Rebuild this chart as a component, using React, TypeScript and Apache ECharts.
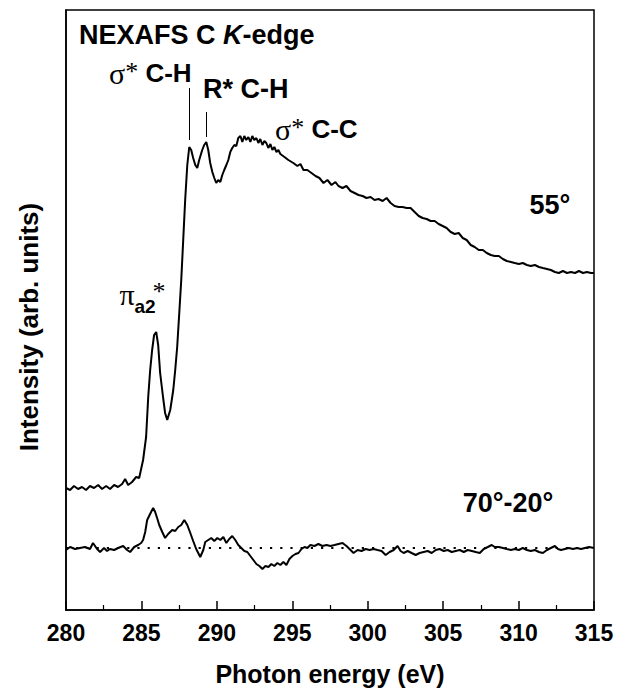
import React, { useEffect, useRef } from "react";
import * as echarts from "echarts";

// Photon energy (eV) and intensity (arb. units)
const mainEnergy = [
  280.0, 280.27, 280.53, 280.8, 281.06, 281.33, 281.59, 281.86, 282.13, 282.39, 282.66, 282.92, 283.19, 283.45,
  283.72, 283.92, 284.12, 284.38, 284.65, 284.85, 285.11, 285.31, 285.45, 285.58, 285.71, 285.84, 285.98, 286.11,
  286.24, 286.44, 286.57, 286.71, 286.91, 287.11, 287.24, 287.37, 287.5, 287.64, 287.77, 287.9, 288.04, 288.17,
  288.3, 288.43, 288.57, 288.7, 288.83, 289.03, 289.16, 289.3, 289.43, 289.56, 289.7, 289.83, 289.96, 290.09,
  290.23, 290.36, 290.49, 290.63, 290.76, 290.89, 291.02, 291.16, 291.29, 291.42, 291.56, 291.69, 291.82, 291.95,
  292.09, 292.22, 292.35, 292.48, 292.62, 292.75, 292.88, 293.02, 293.15, 293.28, 293.41, 293.55, 293.68, 293.81,
  293.95, 294.08, 294.21, 294.48, 294.74, 295.07, 295.34, 295.54, 295.74, 296.0, 296.27, 296.54, 296.8, 297.07,
  297.33, 297.6, 297.86, 298.06, 298.33, 298.59, 298.86, 299.13, 299.39, 299.66, 299.92, 300.19, 300.45, 300.72,
  300.99, 301.25, 301.52, 301.78, 302.05, 302.31, 302.58, 302.84, 303.11, 303.38, 303.64, 303.91, 304.17, 304.44,
  304.7, 304.97, 305.23, 305.5, 305.77, 306.03, 306.3, 306.56, 306.83, 307.09, 307.36, 307.63, 307.89, 308.16,
  308.42, 308.69, 308.96, 309.22, 309.49, 309.75, 310.02, 310.28, 310.55, 310.81, 311.08, 311.35, 311.61, 311.88,
  312.14, 312.41, 312.67, 312.94, 313.21, 313.47, 313.74, 314.0, 314.27, 314.53, 314.8, 315.0,
];
const mainIntensity55 = [
  1.22, 1.2, 1.24, 1.21, 1.23, 1.2, 1.24, 1.22, 1.25, 1.21, 1.24, 1.21, 1.25, 1.23,
  1.26, 1.31, 1.25, 1.28, 1.33, 1.32, 1.5, 1.73, 2.13, 2.4, 2.6, 2.75, 2.78, 2.65,
  2.37, 2.12, 1.97, 1.9, 2.0, 2.2, 2.4, 2.63, 2.95, 3.3, 3.7, 4.1, 4.45, 4.63,
  4.6, 4.52, 4.45, 4.42, 4.5, 4.6, 4.65, 4.68, 4.6, 4.47, 4.38, 4.32, 4.27, 4.3,
  4.28, 4.35, 4.4, 4.45, 4.5, 4.58, 4.62, 4.65, 4.64, 4.72, 4.74, 4.68, 4.74, 4.7,
  4.73, 4.68, 4.74, 4.7, 4.72, 4.67, 4.71, 4.65, 4.69, 4.67, 4.62, 4.66, 4.6, 4.63,
  4.58, 4.6, 4.56, 4.53, 4.5, 4.47, 4.44, 4.46, 4.4, 4.4, 4.37, 4.34, 4.32, 4.27,
  4.3, 4.25, 4.28, 4.24, 4.22, 4.24, 4.19, 4.17, 4.15, 4.14, 4.12, 4.13, 4.1, 4.11,
  4.09, 4.12, 4.07, 4.04, 4.03, 4.03, 4.02, 4.02, 3.98, 3.94, 3.92, 3.91, 3.89, 3.89,
  3.86, 3.84, 3.82, 3.78, 3.76, 3.77, 3.72, 3.7, 3.65, 3.63, 3.6, 3.6, 3.57, 3.55,
  3.54, 3.54, 3.51, 3.49, 3.48, 3.47, 3.46, 3.47, 3.45, 3.44, 3.45, 3.43, 3.42, 3.41,
  3.4, 3.38, 3.37, 3.39, 3.37, 3.38, 3.37, 3.39, 3.37, 3.38, 3.37, 3.37,
];

const diffEnergy = [
  280.0, 280.27, 280.6, 280.93, 281.26, 281.59, 281.79, 282.06, 282.26, 282.52, 282.72, 282.92, 283.19, 283.45,
  283.79, 284.05, 284.25, 284.52, 284.78, 284.98, 285.11, 285.25, 285.38, 285.51, 285.64, 285.78, 285.91, 286.04,
  286.18, 286.38, 286.57, 286.77, 287.04, 287.24, 287.44, 287.64, 287.84, 288.04, 288.24, 288.43, 288.63, 288.9,
  289.1, 289.23, 289.43, 289.63, 289.83, 290.03, 290.23, 290.43, 290.63, 290.82, 291.02, 291.22, 291.42, 291.62,
  291.82, 292.02, 292.22, 292.42, 292.62, 292.82, 293.02, 293.22, 293.42, 293.61, 293.81, 294.01, 294.21, 294.41,
  294.61, 294.81, 295.01, 295.21, 295.41, 295.61, 295.81, 296.0, 296.2, 296.47, 296.73, 297.0, 297.27, 297.53,
  297.8, 298.06, 298.33, 298.59, 298.86, 299.06, 299.33, 299.59, 299.86, 300.12, 300.39, 300.65, 300.92, 301.19,
  301.45, 301.72, 301.98, 302.18, 302.38, 302.65, 302.91, 303.18, 303.44, 303.71, 303.98, 304.24, 304.51, 304.77,
  305.04, 305.3, 305.57, 305.83, 306.1, 306.37, 306.63, 306.9, 307.16, 307.43, 307.69, 307.96, 308.22, 308.42,
  308.69, 308.96, 309.22, 309.49, 309.75, 310.02, 310.28, 310.55, 310.81, 311.08, 311.35, 311.61, 311.88, 312.14,
  312.41, 312.61, 312.81, 313.07, 313.34, 313.61, 313.87, 314.14, 314.4, 314.67, 315.0,
];
const diffIntensity7020 = [
  0.6, 0.63, 0.61, 0.62, 0.63, 0.61, 0.67, 0.61, 0.58, 0.62, 0.59, 0.61, 0.6, 0.62,
  0.64, 0.6, 0.58, 0.63, 0.65, 0.67, 0.7, 0.78, 0.9, 0.94, 0.98, 1.02, 0.98, 0.92,
  0.85, 0.78, 0.72, 0.76, 0.8, 0.79, 0.83, 0.85, 0.9, 0.85, 0.77, 0.69, 0.61, 0.53,
  0.6, 0.68, 0.7, 0.72, 0.69, 0.72, 0.7, 0.73, 0.67, 0.71, 0.74, 0.7, 0.65, 0.62,
  0.59, 0.58, 0.54, 0.5, 0.46, 0.44, 0.41, 0.44, 0.43, 0.46, 0.44, 0.47, 0.45, 0.48,
  0.45, 0.51, 0.54, 0.56, 0.57, 0.61, 0.63, 0.62, 0.65, 0.64, 0.66, 0.64, 0.65, 0.64,
  0.65, 0.66, 0.67, 0.64, 0.6, 0.57, 0.6, 0.59, 0.61, 0.6, 0.61, 0.6, 0.59, 0.55,
  0.58, 0.6, 0.64, 0.59, 0.57, 0.59, 0.57, 0.55, 0.57, 0.58, 0.59, 0.57, 0.6, 0.61,
  0.59, 0.6, 0.58, 0.59, 0.6, 0.58, 0.6, 0.59, 0.58, 0.57, 0.61, 0.63, 0.65, 0.63,
  0.63, 0.62, 0.61, 0.6, 0.61, 0.6, 0.62, 0.6, 0.59, 0.6, 0.58, 0.57, 0.6, 0.62,
  0.64, 0.61, 0.6, 0.61, 0.62, 0.61, 0.62, 0.61, 0.62, 0.63, 0.62,
];
const diffBaseline = 0.62;

// marker lines above the sigma* C-H and R* C-H peaks: [energy, yStart, yEnd]
const sigmaCHMarker = [288.17, 4.7, 5.22];
const rydbergCHMarker = [289.3, 4.73, 4.98];

const xTicks = [280, 285, 290, 295, 300, 305, 310, 315];

const SANS = "'Liberation Sans', Arial, Helvetica, sans-serif";
const SERIF = "'Liberation Serif', 'Times New Roman', serif";

export default function App() {
  const ref = useRef<HTMLDivElement>(null);
  useEffect(() => {
    if (!ref.current) return;
    const chart = echarts.init(ref.current, null, { renderer: "svg" });
    const zip = (xs: number[], ys: number[]) => xs.map((x, i) => [x, ys[i]]);
    const textStyleBase = { fill: "#000" };
    const sigmaRich = {
      s: { fontFamily: SERIF, fontSize: 30, fill: "#000" },
      a: { fontFamily: SERIF, fontSize: 26, fill: "#000", verticalAlign: "top" },
      b: { fontFamily: SANS, fontWeight: "bold", fontSize: 26, fill: "#000" },
    };
    chart.setOption({
      animation: false,
      backgroundColor: "#fff",
      grid: {
        left: 66,
        right: 35,
        top: 10,
        bottom: 90,
        show: true,
        borderColor: "#000",
        borderWidth: 1.5,
        backgroundColor: "transparent",
      },
      xAxis: {
        type: "value",
        min: xTicks[0],
        max: xTicks[xTicks.length - 1],
        interval: 5,
        name: "Photon energy (eV)",
        nameLocation: "middle",
        nameGap: 51,
        nameTextStyle: { fontFamily: SANS, fontWeight: "bold", fontSize: 25, color: "#000" },
        axisLine: { show: true, lineStyle: { color: "#000", width: 1.5 } },
        axisTick: { show: true, inside: true, length: 9, lineStyle: { color: "#000", width: 1.5 } },
        minorTick: { show: true, splitNumber: 2, length: 5, lineStyle: { color: "#000", width: 1.2 } },
        axisLabel: {
          fontFamily: SANS,
          fontWeight: "bold",
          fontSize: 23,
          color: "#000",
          margin: 11,
        },
        splitLine: { show: false },
      },
      yAxis: {
        type: "value",
        min: 0,
        max: 6,
        name: "Intensity (arb. units)",
        nameLocation: "middle",
        nameRotate: 90,
        nameGap: 24,
        nameTextStyle: {
          fontFamily: SANS,
          fontWeight: "bold",
          fontSize: 26,
          color: "#000",
          padding: [0, 34, 0, 0],
        },
        axisLine: { show: true, lineStyle: { color: "#000", width: 1.5 } },
        axisTick: { show: false },
        axisLabel: { show: false },
        splitLine: { show: false },
      },
      series: [
        {
          name: "55°",
          type: "line",
          data: zip(mainEnergy, mainIntensity55),
          showSymbol: false,
          lineStyle: { color: "#000", width: 2 },
          z: 3,
          markLine: {
            silent: true,
            symbol: "none",
            label: { show: false },
            lineStyle: { color: "#000", width: 1, type: "solid" },
            data: [
              [
                { coord: [sigmaCHMarker[0], sigmaCHMarker[1]] },
                { coord: [sigmaCHMarker[0], sigmaCHMarker[2]] },
              ],
              [
                { coord: [rydbergCHMarker[0], rydbergCHMarker[1]] },
                { coord: [rydbergCHMarker[0], rydbergCHMarker[2]] },
              ],
            ],
          },
        },
        {
          name: "70°-20°",
          type: "line",
          data: zip(diffEnergy, diffIntensity7020),
          showSymbol: false,
          lineStyle: { color: "#000", width: 2 },
          z: 3,
          markLine: {
            silent: true,
            symbol: "none",
            label: { show: false },
            lineStyle: { color: "#000", width: 2.2, type: [2.2, 8] },
            data: [{ yAxis: diffBaseline }],
          },
        },
      ],
      graphic: [
        {
          type: "text",
          left: 79,
          top: 21,
          style: {
            ...textStyleBase,
            text: "{b|NEXAFS C }{k|K}{b|-edge}",
            rich: {
              b: { fontFamily: SANS, fontWeight: "bold", fontSize: 27, fill: "#000" },
              k: { fontFamily: SANS, fontWeight: "bold", fontStyle: "italic", fontSize: 27, fill: "#000" },
            },
          },
        },
        {
          type: "text",
          left: 109,
          top: 58,
          style: { ...textStyleBase, text: "{s|σ}{a|*}{b| C-H}", rich: sigmaRich },
        },
        {
          type: "text",
          left: 203,
          top: 75,
          style: {
            ...textStyleBase,
            text: "R* C-H",
            fontFamily: SANS,
            fontWeight: "bold",
            fontSize: 27,
          },
        },
        {
          type: "text",
          left: 275,
          top: 114,
          style: { ...textStyleBase, text: "{s|σ}{a|*}{b| C-C}", rich: sigmaRich },
        },
        {
          type: "text",
          x: 127,
          y: 294,
          style: {
            ...textStyleBase,
            text: "π",
            fontFamily: SERIF,
            fontSize: 30,
            align: "center",
            verticalAlign: "middle",
          },
        },
        {
          type: "text",
          x: 145,
          y: 306,
          style: {
            ...textStyleBase,
            text: "a2",
            fontFamily: SANS,
            fontWeight: "bold",
            fontSize: 19,
            align: "center",
            verticalAlign: "middle",
          },
        },
        {
          type: "text",
          x: 159,
          y: 291,
          style: {
            ...textStyleBase,
            text: "*",
            fontFamily: SERIF,
            fontSize: 26,
            align: "center",
            verticalAlign: "middle",
          },
        },
        {
          type: "text",
          x: 550,
          y: 205,
          style: {
            ...textStyleBase,
            text: "55°",
            fontFamily: SANS,
            fontWeight: "bold",
            fontSize: 27,
            align: "center",
            verticalAlign: "middle",
          },
        },
        {
          type: "text",
          x: 508,
          y: 503,
          style: {
            ...textStyleBase,
            text: "70°-20°",
            fontFamily: SANS,
            fontWeight: "bold",
            fontSize: 27,
            align: "center",
            verticalAlign: "middle",
          },
        },
      ],
    });
    return () => chart.dispose();
  }, []);
  return (
    <div
      ref={ref}
      style={{ position: "fixed", left: 0, top: 0, width: 629, height: 700, background: "#fff" }}
    />
  );
}
